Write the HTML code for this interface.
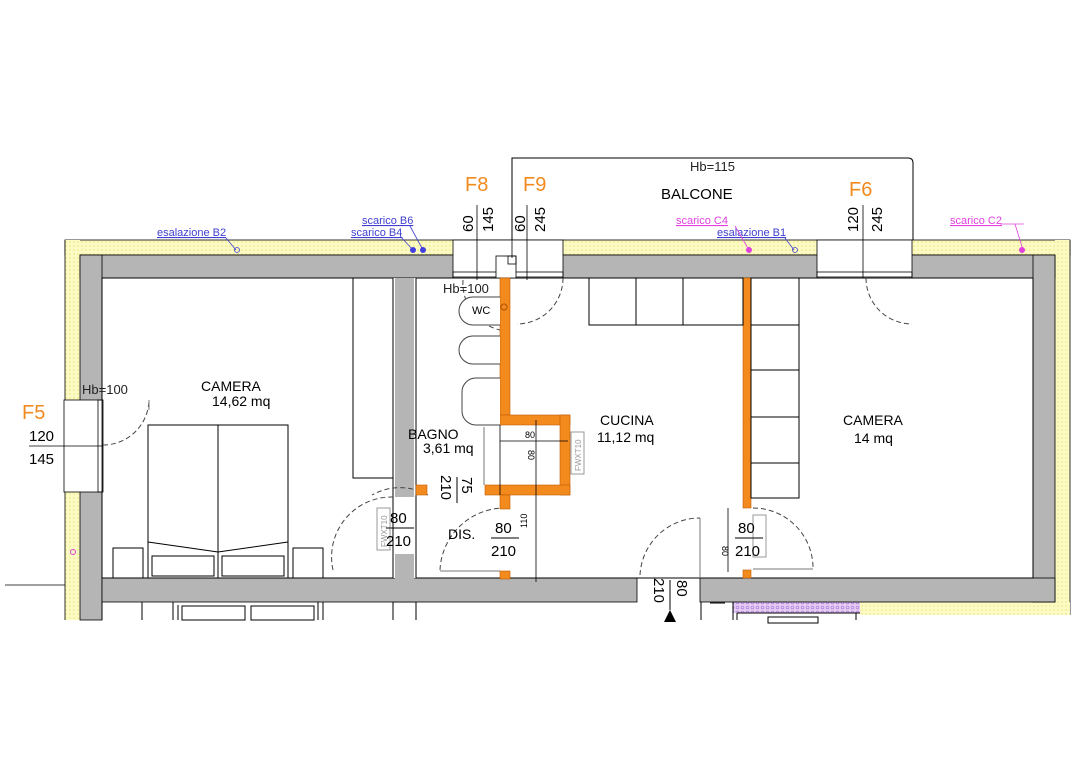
<!DOCTYPE html>
<html><head><meta charset="utf-8"><style>
body{margin:0;background:#fff}
svg{display:block}
text{font-family:"Liberation Sans",sans-serif}
</style></head><body>
<svg width="1085" height="768" viewBox="0 0 1085 768" xmlns="http://www.w3.org/2000/svg">
<defs>
<pattern id="y" width="4" height="4" patternUnits="userSpaceOnUse"><rect width="4" height="4" fill="#fdfbc4"/><circle cx="2" cy="2" r="1" fill="#f3ee9a"/></pattern>
<pattern id="p" width="5" height="5" patternUnits="userSpaceOnUse"><rect width="5" height="5" fill="#e6ccf5"/><circle cx="2.5" cy="2.5" r="1.4" fill="none" stroke="#b080d8" stroke-width=".7"/></pattern>
</defs>
<path d="M512 240 V158 H908 Q913 158 913 163 V240" fill="#fff" stroke="#000" stroke-width="1"/>
<text x="690" y="171" font-size="13" fill="#222">Hb=115</text>
<text x="661" y="199" font-size="15" fill="#000">BALCONE</text>
<rect x="65" y="240" width="1005" height="15" fill="url(#y)" stroke="#000" stroke-width=".8"/>
<rect x="65" y="240" width="15" height="380" fill="url(#y)"/>
<line x1="65" y1="240" x2="65" y2="620" stroke="#000" stroke-width=".8"/>
<rect x="1055" y="240" width="15" height="375" fill="url(#y)"/>
<line x1="1070" y1="240" x2="1070" y2="615" stroke="#000" stroke-width=".8"/>
<rect x="860" y="602" width="210" height="13" fill="url(#y)"/>
<rect x="733" y="602" width="127" height="11" fill="url(#p)"/>
<g fill="#b5b5b5" stroke="#000" stroke-width=".8">
<rect x="80" y="255" width="975" height="23"/>
<rect x="80" y="255" width="22" height="365"/>
<rect x="1033" y="255" width="22" height="347"/>
<rect x="393" y="278" width="23" height="219"/>
<rect x="393" y="552" width="23" height="50"/>
<rect x="102" y="578" width="535" height="24"/>
<rect x="700" y="578" width="355" height="24"/>
</g>
<rect x="102" y="278" width="931" height="300" fill="#fff"/>
<rect x="395" y="278" width="19" height="219" fill="#b5b5b5"/>
<rect x="395" y="554" width="19" height="26" fill="#b5b5b5"/>
<rect x="102" y="278" width="291" height="300" fill="none" stroke="#000" stroke-width="1"/>
<rect x="416" y="278" width="617" height="300" fill="none" stroke="#000" stroke-width="1"/>
<rect x="394" y="497" width="21" height="55" fill="#fff"/>
<rect x="453" y="240" width="110" height="38" fill="#fff" stroke="#000" stroke-width=".8"/>
<rect x="817" y="240" width="95" height="38" fill="#fff" stroke="#000" stroke-width=".8"/>
<rect x="64" y="400" width="38" height="92" fill="#fff" stroke="#000" stroke-width=".8"/>
<g stroke="#000" stroke-width=".8" fill="none">
<rect x="453" y="272" width="110" height="5"/><rect x="817" y="272" width="95" height="5"/>
<rect x="98" y="400" width="5" height="92"/>
<rect x="496" y="256" width="20" height="22" fill="#fff"/><rect x="508" y="256" width="8" height="8"/>
</g>
<g fill="none" stroke="#444" stroke-width="1" stroke-dasharray="5,3">
<path d="M563 278 A46 46 0 0 1 517 324"/><path d="M866 278 A46 46 0 0 0 912 324"/>
<path d="M103 445 A46 46 0 0 0 149 400"/><path d="M463 280 A48 48 0 0 0 500 330"/>
<path d="M428 495 A57 57 0 0 0 372 495"/>
<path d="M333 570 A60 60 0 0 1 393 497"/>
<path d="M440 570 A65 65 0 0 1 503 508"/>
<path d="M640 575 A60 60 0 0 1 700 518"/>
<path d="M753 508 A60 60 0 0 1 813 568"/>
</g>
<g stroke="#777" stroke-width="1" fill="none">
<line x1="149" y1="400" x2="149" y2="410"/>
<line x1="440" y1="571" x2="500" y2="571"/><line x1="700" y1="518" x2="700" y2="578"/>
<line x1="753" y1="569" x2="813" y2="569"/>
<line x1="484" y1="427" x2="484" y2="485"/>
</g>
<g fill="#f28a1e" stroke="#c05a00" stroke-width=".6">
<rect x="500" y="278" width="10" height="137"/>
<rect x="500" y="415" width="70" height="10"/>
<rect x="560" y="415" width="10" height="80"/>
<rect x="485" y="485" width="85" height="10"/>
<rect x="500" y="495" width="10" height="14"/>
<rect x="500" y="571" width="10" height="8"/>
<rect x="416" y="485" width="11" height="10"/>
<rect x="743" y="278" width="8" height="230"/>
<rect x="743" y="570" width="8" height="8"/>
</g>
<circle cx="504" cy="307" r="3" fill="none" stroke="#b05000"/>
<g fill="#fff" stroke="#000" stroke-width="1">
<rect x="353" y="278" width="40" height="200"/>
<rect x="589" y="278" width="154" height="47"/>
<line x1="636" y1="278" x2="636" y2="325"/><line x1="683" y1="278" x2="683" y2="325"/>
<rect x="751" y="278" width="48" height="220"/>
<line x1="751" y1="325" x2="799" y2="325"/><line x1="751" y1="370" x2="799" y2="370"/>
<line x1="751" y1="417" x2="799" y2="417"/><line x1="751" y1="463" x2="799" y2="463"/>
<rect x="148" y="425" width="140" height="153"/>
<line x1="218" y1="425" x2="218" y2="578"/>
<polyline points="148,542 218,552 288,542" fill="none"/>
<rect x="152" y="556" width="62" height="20"/><rect x="222" y="556" width="62" height="20"/>
<rect x="113" y="548" width="30" height="30"/><rect x="293" y="548" width="30" height="30"/>
</g>
<g fill="#fff" stroke="#444" stroke-width="1">
<path d="M500 297 H473 A14 14 0 0 0 473 325 H500"/>
<path d="M500 336 H473 A14 14 0 0 0 473 364 H500"/>
<path d="M500 378 H476 A14 14 0 0 0 462 392 V411 A14 14 0 0 0 476 425 H500"/>
</g>
<text x="472" y="314" font-size="11">WC</text>
<g stroke="#000" stroke-width=".8">
<line x1="500" y1="441" x2="568" y2="441"/><line x1="536" y1="420" x2="536" y2="582"/>
<line x1="500" y1="425" x2="500" y2="495"/>
</g>
<text x="525" y="438" font-size="9">80</text>
<text transform="translate(528,450) rotate(90)" font-size="9">80</text>
<text transform="translate(527,528) rotate(-90)" font-size="9">110</text>
<text transform="translate(722,546) rotate(90)" font-size="9">80</text>
<line x1="728" y1="508" x2="728" y2="572" stroke="#000" stroke-width=".8"/>
<g fill="none" stroke="#999"><rect x="571" y="432" width="13" height="42"/><rect x="377" y="508" width="13" height="42"/><rect x="753" y="515" width="13" height="42"/></g>
<g font-size="8" fill="#999"><text transform="translate(581,471) rotate(-90)">FWXT10</text><text transform="translate(387,547) rotate(-90)">FWXT10</text></g>
<g font-size="14" fill="#000">
<text x="201" y="391">CAMERA</text><text x="212" y="406">14,62 mq</text>
<text x="408" y="439">BAGNO</text><text x="423" y="453">3,61 mq</text>
<text x="600" y="425">CUCINA</text><text x="597" y="442">11,12 mq</text>
<text x="843" y="425">CAMERA</text><text x="854" y="443">14 mq</text>
<text x="448" y="539">DIS.</text>
</g>
<g font-size="15" fill="#000">
<text x="390" y="523">80</text><text x="386" y="546">210</text><line x1="386" y1="528" x2="414" y2="528" stroke="#000"/>
<text x="495" y="533">80</text><text x="491" y="556">210</text><line x1="491" y1="538" x2="519" y2="538" stroke="#000"/>
<text x="738" y="533">80</text><text x="735" y="556">210</text><line x1="735" y1="538" x2="763" y2="538" stroke="#000"/>
<text transform="translate(441,475) rotate(90)">210</text><text transform="translate(462,477) rotate(90)">75</text>
<line x1="457" y1="477" x2="457" y2="503" stroke="#000"/>
<text transform="translate(654,578) rotate(90)">210</text><text transform="translate(677,580) rotate(90)">80</text>
<line x1="670" y1="580" x2="670" y2="610" stroke="#000"/>
</g>
<polygon points="670,610 664,622 676,622" fill="#000"/>
<g font-size="20" fill="#f28a1e">
<text x="465" y="191">F8</text><text x="523" y="191">F9</text><text x="849" y="196">F6</text><text x="22" y="419">F5</text>
</g>
<g font-size="15" fill="#000">
<text transform="translate(473,232) rotate(-90)">60</text><text transform="translate(493,232) rotate(-90)">145</text>
<text transform="translate(525,232) rotate(-90)">60</text><text transform="translate(545,232) rotate(-90)">245</text>
<text transform="translate(858,232) rotate(-90)">120</text><text transform="translate(882,232) rotate(-90)">245</text>
<text x="29" y="441">120</text><text x="29" y="464">145</text>
</g>
<g stroke="#000" stroke-width=".8">
<line x1="477" y1="205" x2="477" y2="280"/><line x1="512" y1="160" x2="512" y2="258"/><line x1="527" y1="205" x2="527" y2="280"/>
<line x1="863" y1="205" x2="863" y2="278"/><line x1="29" y1="446" x2="103" y2="446"/>
<line x1="5" y1="585" x2="65" y2="585"/>
</g>
<g font-size="13" fill="#222"><text x="443" y="293">Hb=100</text><text x="82" y="394">Hb=100</text></g>
<g font-size="11" fill="#4040d0">
<text x="157" y="236" text-decoration="underline">esalazione B2</text>
<text x="362" y="224" text-decoration="underline">scarico B6</text>
<text x="351" y="236" text-decoration="underline">scarico B4</text>
<text x="717" y="236" text-decoration="underline">esalazione B1</text>
</g>
<g font-size="11" fill="#e040e0">
<text x="676" y="224" text-decoration="underline">scarico C4</text>
<text x="950" y="224" text-decoration="underline">scarico C2</text>
</g>
<g stroke="#4040d0" stroke-width=".8" fill="none">
<line x1="226" y1="238" x2="236" y2="250"/><circle cx="237" cy="250" r="2.5"/>
<line x1="400" y1="236" x2="413" y2="250"/><line x1="410" y1="226" x2="423" y2="250"/>
<line x1="785" y1="238" x2="794" y2="250"/><circle cx="795" cy="250" r="2.5"/>
</g>
<g fill="#4040e0"><circle cx="413" cy="250" r="3"/><circle cx="423" cy="250" r="3"/></g>
<g stroke="#e040e0" stroke-width=".8"><line x1="735" y1="226" x2="749" y2="250"/><line x1="1015" y1="224" x2="1023" y2="250"/><line x1="1000" y1="224" x2="1024" y2="224"/></g>
<g fill="#e040e0"><circle cx="749" cy="250" r="3"/><circle cx="1022" cy="250" r="3"/></g>
<circle cx="73" cy="552" r="2.5" fill="none" stroke="#e040e0"/>
<g fill="none" stroke="#000" stroke-width="1">
<line x1="102" y1="602" x2="102" y2="620"/><line x1="142" y1="602" x2="142" y2="620"/>
<line x1="173" y1="602" x2="173" y2="620"/><line x1="178" y1="605" x2="178" y2="620"/>
<rect x="182" y="606" width="63" height="14"/><rect x="251" y="606" width="63" height="14"/>
<line x1="318" y1="602" x2="318" y2="620"/><line x1="323" y1="602" x2="323" y2="620"/>
<line x1="393" y1="602" x2="393" y2="620"/><line x1="416" y1="602" x2="416" y2="620"/>
<line x1="701" y1="602" x2="701" y2="620"/><line x1="710" y1="603" x2="725" y2="603"/>
<line x1="733" y1="602" x2="733" y2="620"/><line x1="737" y1="613" x2="737" y2="620"/>
<line x1="737" y1="613" x2="860" y2="613"/><line x1="856" y1="613" x2="856" y2="620"/>
<rect x="768" y="617" width="50" height="6"/>
</g>
</svg>
</body></html>
